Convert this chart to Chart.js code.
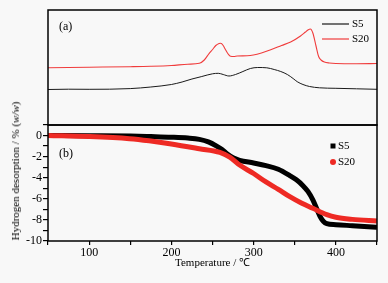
<!DOCTYPE html>
<html>
<head>
<meta charset="utf-8">
<title>Hydrogen desorption</title>
<script src="https://cdn.jsdelivr.net/npm/chart.js@4/dist/chart.umd.min.js"></script>
<style>
    body { margin: 0; background: #f8f8f8; }
    #wrap { position: relative; width: 388px; height: 283px; }
    #wrap canvas { position: absolute; left: 0; top: 0; }
    #ytitle {
        position: absolute; left: 15px; top: 171px;
        transform: translate(-50%, -50%) rotate(-90deg);
        font: normal 11px "Liberation Serif", serif; white-space: nowrap; color: #000;
    }
</style>
</head>
<body>
<div id="wrap">
    <canvas id="dsc" width="388" height="283"></canvas>
    <canvas id="tpd" width="388" height="283"></canvas>
    <div id="ytitle">Hydrogen desorption / % (<i>w/w</i>)</div>
</div>
<script>
// (a) DSC-like signal, arbitrary units
var dscTempS5 = [50, 75, 100, 150, 175, 200, 213, 225, 237, 250, 257, 263, 270, 278, 287, 296, 305, 316, 325, 333, 341, 348, 353, 360, 368, 380, 400, 425, 450];
var dscS5 = [3.55, 3.58, 3.57, 3.64, 3.8, 4.05, 4.3, 4.6, 4.85, 5.12, 5.17, 5.05, 4.9, 5.05, 5.35, 5.65, 5.75, 5.72, 5.55, 5.35, 5.05, 4.65, 4.33, 4.05, 3.85, 3.72, 3.67, 3.62, 3.57];
var dscTempS20 = [50, 100, 150, 175, 200, 220, 234, 240, 246, 250, 254, 258, 260, 263, 266, 269, 272, 276, 280, 296, 320, 334, 345, 357, 363, 366, 369, 372, 376, 379, 382, 386, 392, 400, 425, 450];
var dscS20 = [5.73, 5.78, 5.83, 5.87, 5.95, 6.08, 6.17, 6.5, 7.17, 7.55, 7.95, 8.15, 8.17, 7.95, 7.5, 7.1, 6.87, 6.85, 6.9, 6.95, 7.5, 7.95, 8.3, 8.9, 9.3, 9.5, 9.6, 9.2, 7.85, 6.85, 6.5, 6.3, 6.2, 6.15, 6.13, 6.15];

// (b) hydrogen desorption, % (w/w)
var tpdTempS5 = [50, 100, 150, 175, 200, 220, 234, 245, 254, 262, 268, 275, 283, 300, 315, 330, 344, 352, 360, 366, 372, 377, 381, 385, 389, 400, 420, 450];
var tpdS5 = [0, -0.02, -0.05, -0.1, -0.16, -0.24, -0.36, -0.6, -0.95, -1.35, -1.75, -2.1, -2.35, -2.6, -2.85, -3.2, -3.8, -4.2, -4.75, -5.3, -6.1, -7.0, -7.7, -8.15, -8.35, -8.45, -8.55, -8.7];
var tpdTempS20 = [50, 100, 149, 173, 200, 234, 259, 271, 283, 300, 315, 330, 344, 358, 372, 389, 400, 420, 450];
var tpdS20 = [0, -0.1, -0.3, -0.5, -0.8, -1.25, -1.6, -2.05, -2.8, -3.6, -4.4, -5.1, -5.8, -6.4, -6.9, -7.5, -7.75, -7.95, -8.1];

var xTicks = [100, 200, 300, 400];

(function () {
    "use strict";

    var serif = '"Liberation Serif", "Times New Roman", serif';
    Chart.defaults.font.family = serif;
    Chart.defaults.color = "#000";

    function pairs(xs, ys) {
        return xs.map(function (x, i) { return {x: x, y: ys[i]}; });
    }

    // frame, panel label and legend inside the plot
    var panelDecor = {
        id: 'panelDecor',
        afterDraw: function (chart, args, opts) {
            var ctx = chart.ctx, a = chart.chartArea;
            ctx.save();
            ctx.strokeStyle = '#000';
            ctx.lineWidth = 1.5;
            ctx.strokeRect(a.left, a.top, a.right - a.left, a.bottom - a.top);

            ctx.fillStyle = '#000';
            ctx.font = '12px ' + serif;
            ctx.textBaseline = 'middle';
            ctx.fillText(opts.label, opts.labelX, opts.labelY);

            ctx.font = '11px ' + serif;
            chart.data.datasets.forEach(function (ds, i) {
                var y = opts.legendY + i * opts.legendGap;
                ctx.fillStyle = ds.borderColor;
                ctx.strokeStyle = ds.borderColor;
                if (opts.legendStyle === 'line') {
                    ctx.lineWidth = 1.2;
                    ctx.beginPath();
                    ctx.moveTo(opts.legendX, y);
                    ctx.lineTo(opts.legendX + 27, y);
                    ctx.stroke();
                    ctx.fillStyle = '#000';
                    ctx.fillText(ds.label, opts.legendX + 30, y + 0.5);
                } else {
                    if (i === 0) {
                        ctx.fillRect(opts.legendX - 2.5, y - 2.5, 5, 5);
                    } else {
                        ctx.beginPath();
                        ctx.arc(opts.legendX, y, 3, 0, Math.PI * 2);
                        ctx.fill();
                    }
                    ctx.fillStyle = '#000';
                    ctx.fillText(ds.label, opts.legendX + 5, y + 0.5);
                }
            });
            ctx.restore();
        }
    };

    // Top panel (a)
    new Chart(document.getElementById('dsc'), {
        type: 'line',
        data: {
            datasets: [{
                label: 'S5',
                borderColor: '#1a1a1a',
                borderWidth: 1,
                data: pairs(dscTempS5, dscS5)
            }, {
                label: 'S20',
                borderColor: '#f03c3c',
                borderWidth: 1.1,
                data: pairs(dscTempS20, dscS20)
            }]
        },
        options: {
            responsive: false,
            animation: false,
            events: [],
            layout: {padding: {left: 48, right: 11, top: 10, bottom: 158}},
            elements: {point: {radius: 0}, line: {tension: 0.4, cubicInterpolationMode: 'monotone'}},
            scales: {
                x: {type: 'linear', min: 50, max: 450, display: false},
                y: {min: 0, max: 11.5, display: false}
            },
            plugins: {
                legend: {display: false},
                tooltip: {enabled: false},
                panelDecor: {label: '(a)', labelX: 59, labelY: 27, legendStyle: 'line', legendX: 322, legendY: 24, legendGap: 15}
            }
        },
        plugins: [panelDecor]
    });

    // Bottom panel (b)
    new Chart(document.getElementById('tpd'), {
        type: 'line',
        data: {
            datasets: [{
                label: 'S5',
                borderColor: '#000',
                borderWidth: 5,
                order: 1,
                data: pairs(tpdTempS5, tpdS5)
            }, {
                label: 'S20',
                borderColor: '#ee2a24',
                borderWidth: 5,
                order: 0,
                data: pairs(tpdTempS20, tpdS20)
            }]
        },
        options: {
            responsive: false,
            animation: false,
            events: [],
            layout: {padding: {left: 0, right: 11, top: 125, bottom: 0}},
            elements: {point: {radius: 0}, line: {cubicInterpolationMode: 'monotone'}},
            scales: {
                x: {
                    type: 'linear', min: 50, max: 450,
                    afterFit: function (scale) { scale.height = 42; },
                    grid: {drawOnChartArea: false, tickLength: 4, color: '#000', lineWidth: 1.2},
                    border: {display: false},
                    ticks: {
                        stepSize: 50, autoSkip: false, maxRotation: 0, padding: 1,
                        font: {size: 12},
                        callback: function (v) { return xTicks.indexOf(v) >= 0 ? String(v) : ''; }
                    },
                    title: {display: true, text: 'Temperature / ℃', font: {size: 11}, padding: {top: 0, bottom: 13}}
                },
                y: {
                    min: -10, max: 1,
                    afterFit: function (scale) { scale.width = 48; },
                    grid: {drawOnChartArea: false, tickLength: 5, color: '#000', lineWidth: 1.2},
                    border: {display: false},
                    ticks: {
                        stepSize: 1, autoSkip: false, padding: 1,
                        font: {size: 12},
                        callback: function (v) { return v % 2 === 0 ? String(v) : ''; }
                    }
                }
            },
            plugins: {
                legend: {display: false},
                tooltip: {enabled: false},
                panelDecor: {label: '(b)', labelX: 59, labelY: 154, legendStyle: 'marker', legendX: 333, legendY: 146, legendGap: 16}
            }
        },
        plugins: [panelDecor]
    });
})();
</script>
</body>
</html>
